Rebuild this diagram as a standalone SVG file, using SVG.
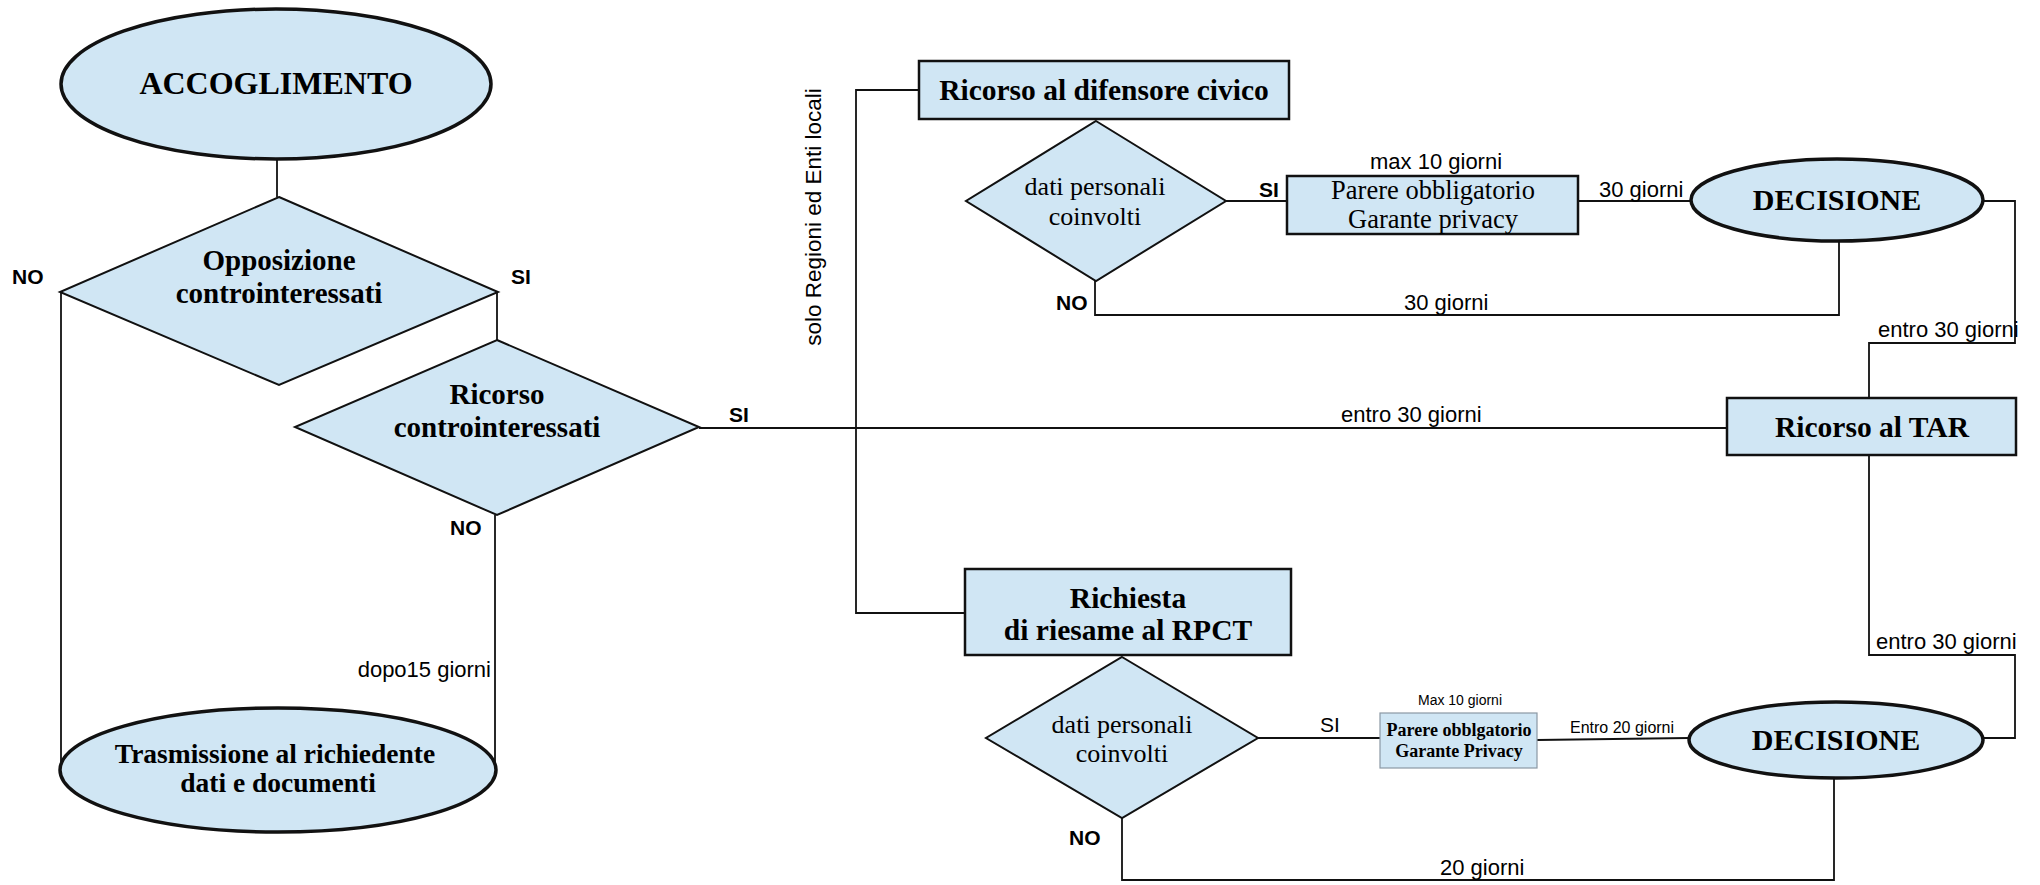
<svg xmlns="http://www.w3.org/2000/svg" width="2040" height="885" viewBox="0 0 2040 885">
<style>
.bg{fill:#ffffff}
.shape{fill:#d0e6f4;stroke:#111;stroke-width:2.5}
.ell{fill:#d0e6f4;stroke:#111;stroke-width:3.5}
.dia{fill:#d0e6f4;stroke:#111;stroke-width:2}
.small{fill:#d0e6f4;stroke:#8b98a4;stroke-width:1.2}
.conn{fill:none;stroke:#111;stroke-width:1.8}
.tb{font-family:"Liberation Serif","Times New Roman",serif;font-weight:bold;fill:#000;text-anchor:middle}
.tr{font-family:"Liberation Serif","Times New Roman",serif;fill:#000;text-anchor:middle}
.lb{font-family:"Liberation Sans",Arial,sans-serif;font-weight:bold;fill:#000;font-size:21px}
.lr{font-family:"Liberation Sans",Arial,sans-serif;fill:#000}
</style>
<rect class="bg" x="0" y="0" width="2040" height="885"/>
<g id="connectors">
<path class="conn" d="M277,159 V197"/>
<path class="conn" d="M61,292 V770"/>
<path class="conn" d="M497,292 V340"/>
<path class="conn" d="M495,515 V768"/>
<path class="conn" d="M699,428 H1727"/>
<path class="conn" d="M919,90 H856 V613 H965"/>
<path class="conn" d="M1226,201 H1287"/>
<path class="conn" d="M1095,281 V315 H1839 V241"/>
<path class="conn" d="M1578,201 H1691"/>
<path class="conn" d="M1984,201 H2015 V343 H1869 V398"/>
<path class="conn" d="M1869,455 V655 H2015 V738 H1982"/>
<path class="conn" d="M1258,738 H1380"/>
<path class="conn" d="M1537,740 L1689,738"/>
<path class="conn" d="M1122,818 V880 H1834 V778"/>
</g>
<g id="labels">
<text class="lb" x="12" y="284">NO</text>
<text class="lb" x="511" y="284">SI</text>
<text class="lb" x="450" y="535">NO</text>
<text class="lb" x="729" y="422">SI</text>
<text class="lr" x="1341" y="422" font-size="22">entro 30 giorni</text>
<text class="lr" font-size="22.5" text-anchor="middle" transform="translate(821,217) rotate(-90)">solo Regioni ed Enti locali</text>
<text class="lr" x="491" y="677" font-size="22" text-anchor="end">dopo15 giorni</text>
<text class="lb" x="1259" y="197">SI</text>
<text class="lr" x="1370" y="169" font-size="22">max 10 giorni</text>
<text class="lr" x="1599" y="197" font-size="22">30 giorni</text>
<text class="lb" x="1056" y="310">NO</text>
<text class="lr" x="1404" y="310" font-size="22">30 giorni</text>
<text class="lr" x="1878" y="337" font-size="22">entro 30 giorni</text>
<text class="lr" x="1876" y="649" font-size="22">entro 30 giorni</text>
<text class="lr" x="1320" y="732" font-size="21">SI</text>
<text class="lr" x="1460" y="705" font-size="14" text-anchor="middle">Max 10 giorni</text>
<text class="lr" x="1570" y="733" font-size="16">Entro 20 giorni</text>
<text class="lb" x="1069" y="845">NO</text>
<text class="lr" x="1440" y="875" font-size="22">20 giorni</text>
</g>
<g id="accoglimento">
<ellipse class="ell" cx="276" cy="84" rx="215" ry="75"/>
<text class="tb" x="276" y="94" font-size="32">ACCOGLIMENTO</text>
</g>
<g id="opposizione">
<polygon class="dia" points="279,197 498,292 279,385 60,292"/>
<text class="tb" x="279" y="270" font-size="29">Opposizione</text>
<text class="tb" x="279" y="303" font-size="29">controinteressati</text>
</g>
<g id="ricorso-controinteressati">
<polygon class="dia" points="497,340 699,427 497,515 295,427"/>
<text class="tb" x="497" y="404" font-size="29">Ricorso</text>
<text class="tb" x="497" y="437" font-size="29">controinteressati</text>
</g>
<g id="trasmissione">
<ellipse class="ell" cx="278" cy="770" rx="218" ry="62"/>
<text class="tb" x="275" y="763" font-size="27.5">Trasmissione al richiedente</text>
<text class="tb" x="278" y="792" font-size="27.5">dati e documenti</text>
</g>
<g id="difensore">
<rect class="shape" x="919" y="61" width="370" height="58"/>
<text class="tb" x="1104" y="100" font-size="29.5">Ricorso al difensore civico</text>
</g>
<g id="dati1">
<polygon class="dia" points="1096,121 1226,201 1096,281 966,201"/>
<text class="tr" x="1095" y="195" font-size="26">dati personali</text>
<text class="tr" x="1095" y="225" font-size="26">coinvolti</text>
</g>
<g id="parere1">
<rect class="shape" x="1287" y="176" width="291" height="58"/>
<text class="tr" x="1433" y="199" font-size="26.5">Parere obbligatorio</text>
<text class="tr" x="1433" y="228" font-size="26.5">Garante privacy</text>
</g>
<g id="decisione1">
<ellipse class="ell" cx="1837" cy="200" rx="146" ry="41"/>
<text class="tb" x="1837" y="210" font-size="30">DECISIONE</text>
</g>
<g id="tar">
<rect class="shape" x="1727" y="398" width="289" height="57"/>
<text class="tb" x="1872" y="437" font-size="29.5">Ricorso al TAR</text>
</g>
<g id="riesame">
<rect class="shape" x="965" y="569" width="326" height="86"/>
<text class="tb" x="1128" y="608" font-size="29.5">Richiesta</text>
<text class="tb" x="1128" y="640" font-size="29.5">di riesame al RPCT</text>
</g>
<g id="dati2">
<polygon class="dia" points="1122,657 1258,738 1122,818 986,738"/>
<text class="tr" x="1122" y="733" font-size="26">dati personali</text>
<text class="tr" x="1122" y="762" font-size="26">coinvolti</text>
</g>
<g id="parere2">
<rect class="small" x="1380" y="713" width="157" height="55"/>
<text class="tb" x="1459" y="736" font-size="18">Parere obblgatorio</text>
<text class="tb" x="1459" y="757" font-size="18">Garante Privacy</text>
</g>
<g id="decisione2">
<ellipse class="ell" cx="1836" cy="740" rx="147" ry="38"/>
<text class="tb" x="1836" y="750" font-size="30">DECISIONE</text>
</g>
</svg>
